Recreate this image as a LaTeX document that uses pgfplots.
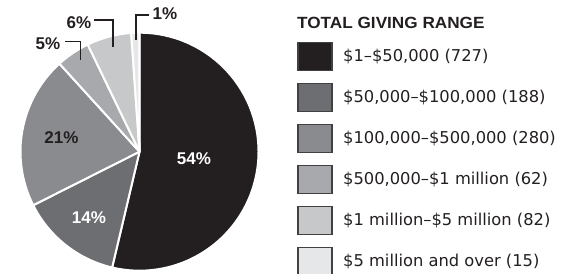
\documentclass[border=0pt]{standalone}
\usepackage{pgfplots}
\usepackage{pgfplotstable}
\pgfplotsset{compat=1.18}
\usepackage{fontspec}
\setmainfont{DejaVu Sans}
\newfontfamily\legfont{DejaVu Sans}
\newfontfamily\heavy{Liberation Sans}
\newfontfamily\titlefont[FakeStretch=1.06]{Liberation Sans}

\definecolor{c0}{HTML}{231F20}
\definecolor{c1}{HTML}{6D6E71}
\definecolor{c2}{HTML}{8A8B8E}
\definecolor{c3}{HTML}{A7A9AC}
\definecolor{c4}{HTML}{C7C8CA}
\definecolor{c5}{HTML}{E6E7E8}
\definecolor{bord}{HTML}{414042}

\pgfplotstableread{
count
727
188
280
62
82
15
}\pietable

\begin{document}
\begin{tikzpicture}[x=1bp,y=1bp]
\useasboundingbox (0,0) rectangle (575,273);
% compute slice angles from data
\pgfmathsetmacro\tot{0}
\pgfplotsforeachungrouped \i in {0,...,5}{%
  \pgfplotstablegetelem{\i}{count}\of\pietable
  \pgfmathsetmacro\tot{\tot+\pgfplotsretval}%
}
\pgfmathsetmacro\acc{90}
\pgfplotsforeachungrouped \i in {0,...,5}{%
  \pgfplotstablegetelem{\i}{count}\of\pietable
  \pgfmathsetmacro\fr{\pgfplotsretval/\tot}%
  \pgfmathsetmacro\nxt{\acc-360*\fr}%
  \expandafter\xdef\csname sa\i\endcsname{\acc}%
  \expandafter\xdef\csname ea\i\endcsname{\nxt}%
  \global\let\acc\nxt
}
\begin{axis}[at={(0,0)}, anchor=origin, x=1bp, y=1bp,
  xmin=0, xmax=575, ymin=0, ymax=273, hide axis, clip=false]
\pgfplotsinvokeforeach{0,...,5}{
  \fill[fill=c#1, draw=white, line width=2bp, line join=round]
    (axis cs:139.5,121.3) -- ++(\csname sa#1\endcsname:119bp)
    arc[start angle=\csname sa#1\endcsname, end angle=\csname ea#1\endcsname, radius=119bp] -- cycle;
}
\end{axis}
% inner labels
\node[font=\heavy\bfseries\fontsize{17bp}{20bp}\selectfont, text=white] at (194,114.5) {54\%};
\node[font=\heavy\bfseries\fontsize{17bp}{20bp}\selectfont, text=c0] at (61.5,135) {21\%};
\node[font=\heavy\bfseries\fontsize{17bp}{20bp}\selectfont, text=white] at (89,55.5) {14\%};
% outer labels
\node[font=\heavy\bfseries\fontsize{17bp}{20bp}\selectfont, text=c0] at (165,259) {1\%};
\node[font=\heavy\bfseries\fontsize{17bp}{20bp}\selectfont, text=c0] at (79,250) {6\%};
\node[font=\heavy\bfseries\fontsize{17bp}{20bp}\selectfont, text=c0] at (48,229) {5\%};
\draw[c0, line width=1.3bp] (149,258) -| (136,233);
\draw[c0, line width=1.3bp] (94,253) -| (113,226);
\draw[c0, line width=1.3bp] (65,231.3) -| (80.7,213);
% legend
\node[anchor=base west, inner sep=0pt, font=\titlefont\bfseries\fontsize{16.2bp}{19bp}\selectfont, text=c0] at (297,244.7) {TOTAL GIVING RANGE};
\foreach \r/\lab in {0/{\$1–\$50,000 (727)},1/{\$50,000–\$100,000 (188)},2/{\$100,000–\$500,000 (280)},3/{\$500,000–\$1 million (62)},4/{\$1 million–\$5 million (82)},5/{\$5 million and over (15)}}{
  \pgfmathsetmacro\yt{273-42.3-41*\r}
  \pgfmathsetmacro\yb{\yt-28}
  \pgfmathsetmacro\ybase{273-61.7-41*\r}
  \filldraw[fill=c\r, draw=bord, line width=1.2bp] (298,\yb) rectangle (332,\yt);
  \node[anchor=base west, inner sep=0pt, font=\legfont\fontsize{16.3bp}{19bp}\selectfont, text=c0] at (343,\ybase) {\lab};
}
\end{tikzpicture}
\end{document}
